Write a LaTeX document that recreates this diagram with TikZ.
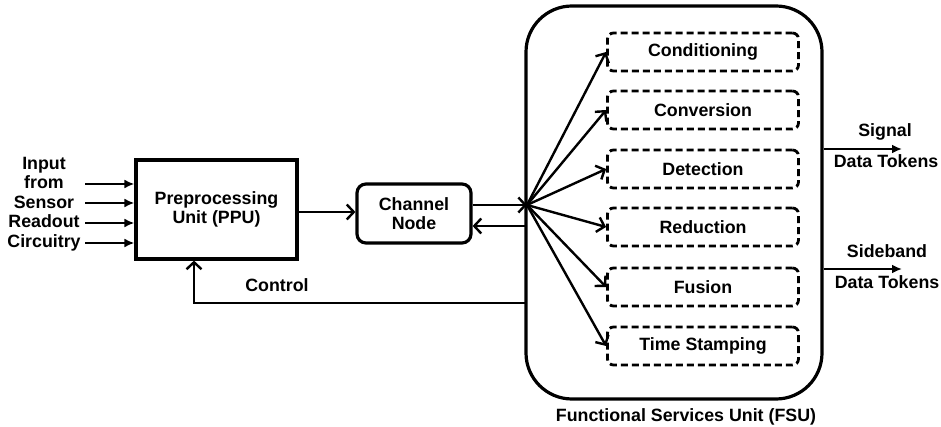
\documentclass[tikz,border=0pt]{standalone}
\usepackage{fontspec}
\setmainfont{Liberation Sans}
\usetikzlibrary{arrows.meta}
\begin{document}
\begin{tikzpicture}[x=1pt,y=-1pt,
  font=\bfseries\fontsize{17.8}{19.5}\selectfont,
  box/.style={draw,line width=3.2pt,align=center,inner sep=0pt},
  svc/.style={draw,line width=2.8pt,dash pattern=on 7pt off 4pt,rounded corners=6pt,minimum width=191pt,minimum height=38pt,inner sep=0pt},
  farr/.style={line width=2.4pt,-{Latex[length=10pt,width=9pt]}},
  oarr/.style={line width=2.4pt,-{Straight Barb[length=7pt,width=15pt,line width=2.4pt]}},
  lbl/.style={align=center,inner sep=0pt}]
\useasboundingbox (0,0) rectangle (941,427);
% main boxes
\node[box,minimum width=161pt,minimum height=99pt] (ppu) at (216.5,209.5) {Preprocessing\\Unit (PPU)};
\node[box,rounded corners=9pt,minimum width=114pt,minimum height=59pt] (ch) at (414,213.5) {Channel\\Node};
\node[box,rounded corners=46pt,minimum width=296pt,minimum height=393pt] (fsu) at (674,202.5) {};
% services
\node[svc] (s1) at (703,52) {Conditioning};
\node[svc] (s2) at (703,110) {Conversion};
\node[svc] (s3) at (703,169) {Detection};
\node[svc] (s4) at (703,227) {Reduction};
\node[svc] (s5) at (703,287) {Fusion};
\node[svc] (s6) at (703,346) {Time Stamping};
% labels
\node[lbl] (inp) at (44,204) {Input\\from\\Sensor\\Readout\\Circuitry};
\node[lbl] (ctl) at (277,285) {Control};
\node[lbl] (sig1) at (885,132) {Signal};
\node[lbl] (sig2) at (886,161) {Data Tokens};
\node[lbl] (sb1) at (887,251) {Sideband};
\node[lbl] (sb2) at (887,282) {Data Tokens};
\node[lbl] (fl) at (686,417) {Functional Services Unit (FSU)};
% coordinates
\coordinate (o) at (527,205);
\coordinate (r) at (527,226);
\coordinate (c) at (527,303);
\coordinate (i1) at (85,184);
\coordinate (i2) at (85,203);
\coordinate (i3) at (85,223);
\coordinate (i4) at (85,243);
\coordinate (so) at (902,149);
\coordinate (bo) at (902,269);
% input arrows
\foreach \i in {i1,i2,i3,i4} \draw[farr] (\i) -- (ppu.west |- \i);
% ppu -> channel
\draw[oarr] (ppu.east |- 0,212) -- (ch.west |- 0,212);
% channel <-> fsu
\draw[oarr] (ch.east |- o) -- (o);
\draw[oarr] (r) -- (ch.east |- r);
% fan
\foreach \s in {s1,s2,s3,s4,s5,s6} \draw[oarr] (o) -- (\s.west);
% control
\draw[oarr] (c) -| ([xshift=-22.5pt]ppu.south);
% outputs
\draw[farr] (fsu.east |- so) -- (so);
\draw[farr] (fsu.east |- bo) -- (bo);
\end{tikzpicture}
\end{document}
